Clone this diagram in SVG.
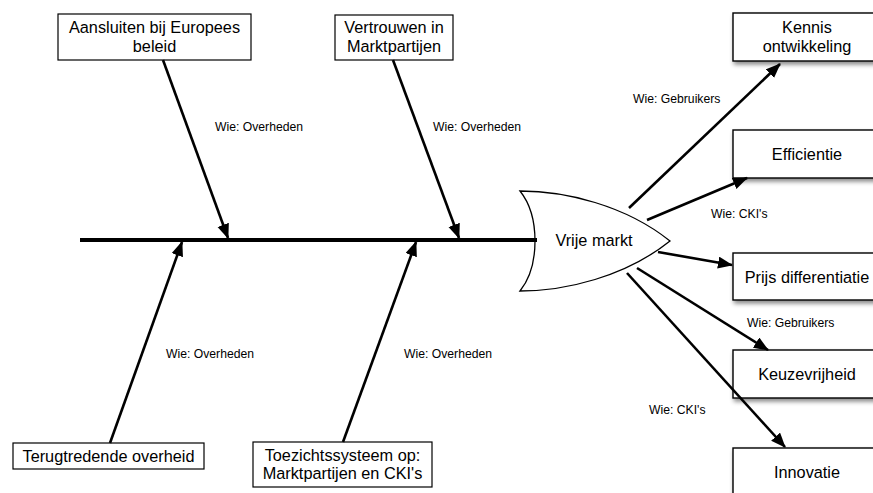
<svg xmlns="http://www.w3.org/2000/svg" width="873" height="493" viewBox="0 0 873 493">
  <style>
    .box { fill: #ffffff; stroke: #000000; stroke-width: 1.2; }
    .rbox { fill: #ffffff; stroke: #000000; stroke-width: 1.4; filter: url(#shadow); }
    .txt { font-family: "Liberation Sans", Arial, sans-serif; font-size: 16.3px; fill: #000000; text-anchor: middle; }
    .lbl { font-family: "Liberation Sans", Arial, sans-serif; font-size: 12.2px; fill: #000000; }
    .arrow { stroke: #000000; stroke-width: 2.6; fill: none; marker-end: url(#head); }
    .spine { stroke: #000000; stroke-width: 4; fill: none; }
  </style>
  <defs>
    <marker id="head" markerUnits="userSpaceOnUse" markerWidth="15" markerHeight="13" refX="14" refY="6" orient="auto">
      <path d="M0,0 L15,6 L0,12 Z" fill="#000000"/>
    </marker>
    <filter id="shadow" x="-10%" y="-20%" width="130%" height="160%">
      <feDropShadow dx="1.5" dy="3" stdDeviation="2" flood-color="#000000" flood-opacity="0.45"/>
    </filter>
  </defs>

  <rect width="873" height="493" fill="#ffffff"/>

  <!-- causes above the spine -->
  <g id="node-europees">
    <rect class="box" x="58" y="14" width="193" height="46"/>
    <text class="txt" x="154.5" y="33">Aansluiten bij Europees</text>
    <text class="txt" x="154.5" y="51.5">beleid</text>
  </g>
  <g id="node-vertrouwen">
    <rect class="box" x="335" y="15" width="118" height="45"/>
    <text class="txt" x="394" y="33">Vertrouwen in</text>
    <text class="txt" x="394" y="51.5">Marktpartijen</text>
  </g>

  <!-- causes below the spine -->
  <g id="node-terugtredend">
    <rect class="box" x="13" y="443" width="191" height="26"/>
    <text class="txt" x="108.5" y="461.5">Terugtredende overheid</text>
  </g>
  <g id="node-toezicht">
    <rect class="box" x="253" y="442" width="179" height="45"/>
    <text class="txt" x="342.5" y="460.5">Toezichtssysteem op:</text>
    <text class="txt" x="342.5" y="479">Marktpartijen en CKI's</text>
  </g>

  <!-- head of the fish -->
  <g id="node-vrije-markt">
    <path d="M520,191 C565,191 625,205 670,241 C625,277 565,291 520,291 C540,266 540,216 520,191 Z" fill="#ffffff" stroke="#000000" stroke-width="1.3"/>
    <text class="txt" x="594" y="246">Vrije markt</text>
  </g>

  <!-- effects on the right -->
  <g id="node-kennis">
    <rect class="rbox" x="733" y="13" width="148" height="48"/>
    <text class="txt" x="807" y="33">Kennis</text>
    <text class="txt" x="807" y="51.5">ontwikkeling</text>
  </g>
  <g id="node-efficientie">
    <rect class="rbox" x="733" y="130" width="148" height="48"/>
    <text class="txt" x="807" y="160">Efficientie</text>
  </g>
  <g id="node-prijs">
    <rect class="rbox" x="733" y="253" width="148" height="47"/>
    <text class="txt" x="807" y="282.5">Prijs differentiatie</text>
  </g>
  <g id="node-keuze">
    <rect class="rbox" x="733" y="350" width="148" height="48"/>
    <text class="txt" x="807" y="380">Keuzevrijheid</text>
  </g>
  <g id="node-innovatie">
    <rect class="rbox" x="733" y="448" width="148" height="48"/>
    <text class="txt" x="807" y="477.5">Innovatie</text>
  </g>

  <!-- connectors -->
  <g id="connectors">
    <line class="spine" x1="80" y1="240" x2="537" y2="240"/>

    <line class="arrow" x1="163" y1="60" x2="228" y2="238"/>
    <line class="arrow" x1="393" y1="60" x2="459" y2="238"/>
    <line class="arrow" x1="110" y1="443" x2="182" y2="242"/>
    <line class="arrow" x1="343" y1="442" x2="416" y2="242"/>

    <line class="arrow" x1="629" y1="208" x2="780" y2="64"/>
    <line class="arrow" x1="647" y1="220" x2="747" y2="178"/>
    <line class="arrow" x1="658" y1="252" x2="732" y2="265"/>
    <line class="arrow" x1="637" y1="268" x2="768" y2="350"/>
    <line class="arrow" x1="627" y1="273" x2="785" y2="447"/>

    <text class="lbl" x="215" y="131">Wie: Overheden</text>
    <text class="lbl" x="433" y="131">Wie: Overheden</text>
    <text class="lbl" x="166" y="358">Wie: Overheden</text>
    <text class="lbl" x="404" y="358">Wie: Overheden</text>
    <text class="lbl" x="633" y="103">Wie: Gebruikers</text>
    <text class="lbl" x="711" y="218">Wie: CKI's</text>
    <text class="lbl" x="747" y="327">Wie: Gebruikers</text>
    <text class="lbl" x="649" y="414">Wie: CKI's</text>
  </g>
</svg>
